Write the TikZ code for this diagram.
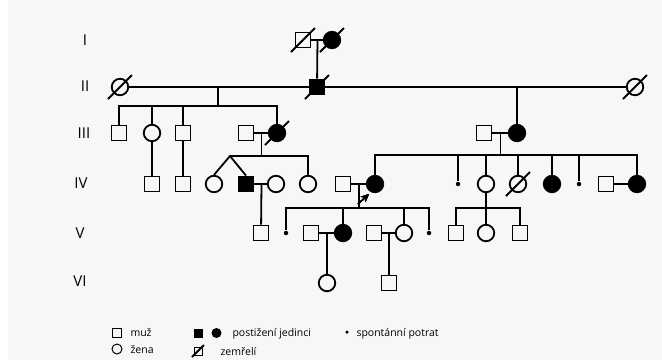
\documentclass[tikz,border=0pt]{standalone}
\usepackage{fontspec}
\setmainfont{Open Sans}
\usetikzlibrary{arrows.meta,calc}
% diagonal stroke through a deceased person
\newcommand{\deceased}[2][12]{\draw[slash] (#2) ++(-#1,#1) -- ++(2*#1,-2*#1);}
\begin{document}
\begin{tikzpicture}
	[x=1pt,y=-1pt,line width=1.8pt,
	male/.style={draw,rectangle,minimum size=15,inner sep=0},
	female/.style={draw,circle,minimum size=16.5,inner sep=0},
	affected/.style={fill=black},
	abort/.style={circle,fill=black,minimum size=4.5,inner sep=0},
	slash/.style={line width=1.8pt},
	gen/.style={font=\fontsize{15}{17}\selectfont},
	legend/.style={font=\fontsize{10.5}{12}\selectfont,anchor=base west,inner sep=0}]
	\fill[white] (0,0) rectangle (662,360);
	\fill[gray!6] (8,0) rectangle (662,360);
	\clip (0,0) rectangle (662,360);
	% generations
	\foreach \g/\x/\y in {I/85/40,II/85/86,III/84/133,IV/81/183,V/80/233,VI/80/281}
		\node[gen] at (\x,\y) {\g};
	% I
	\node[male] (I1) at (303,40) {};
	\node[female,affected] (I2) at (332,40) {};
	% II
	\node[female] (II1) at (120,87) {};
	\node[male,affected] (II2) at (317,87) {};
	\node[female] (II3) at (635,87) {};
	% III
	\node[male] (III1) at (119,133) {};
	\node[female] (III2) at (152,133) {};
	\node[male] (III3) at (183,133) {};
	\node[male] (III4) at (246,133) {};
	\node[female,affected] (III5) at (277,133) {};
	\node[male] (III6) at (484,133) {};
	\node[female,affected] (III7) at (517,133) {};
	% IV
	\node[male] (IV1) at (152,184) {};
	\node[male] (IV2) at (183,184) {};
	\node[female] (IV3) at (214,184) {};
	\node[male,affected] (IV4) at (246,184) {};
	\node[female] (IV5) at (276,184) {};
	\node[female] (IV6) at (308,184) {};
	\node[male] (IV7) at (343,184) {};
	\node[female,affected] (IV8) at (375,184) {};
	\node[abort] (IV9) at (458,184) {};
	\node[female] (IV10) at (486,184) {};
	\node[female] (IV11) at (518,184) {};
	\node[female,affected] (IV12) at (552,184) {};
	\node[abort] (IV13) at (579,184) {};
	\node[male] (IV14) at (606,184) {};
	\node[female,affected] (IV15) at (637,184) {};
	% V
	\node[male] (V1) at (261,233) {};
	\node[abort] (V2) at (286,233) {};
	\node[male] (V3) at (311,233) {};
	\node[female,affected] (V4) at (343,233) {};
	\node[male] (V5) at (374,233) {};
	\node[female] (V6) at (404,233) {};
	\node[abort] (V7) at (429,233) {};
	\node[male] (V8) at (456,233) {};
	\node[female] (V9) at (486,233) {};
	\node[male] (V10) at (520,233) {};
	% VI
	\node[female] (VI1) at (327,283) {};
	\node[male] (VI2) at (389,283) {};
	% sibship points
	\coordinate (sII1) at (218,106);
	\coordinate (sIII4) at (261.5,156);
	\coordinate (twin) at (230,156);
	\coordinate (sIII6) at (500.5,155);
	\coordinate (sIV7) at (359,208);
	\coordinate (sIV10) at (486,208);
	% marriages
	\draw (I1) -- (I2);
	\draw (II1) -- (II2) -- (II3);
	\draw (III4) -- (III5);
	\draw (III6) -- (III7);
	\draw (IV4) -- (IV5);
	\draw (IV7) -- (IV8);
	\draw (IV14) -- (IV15);
	\draw (V3) -- (V4);
	\draw (V5) -- (V6);
	% descent
	\draw ($(I1)!.5!(I2)$) -- (II2);
	\draw (sII1 |- II2) -- (sII1);
	\draw (III1.north) |- (sII1) -| (III5.north);
	\draw (III2) -- (III2 |- sII1);
	\draw (III3) -- (III3 |- sII1);
	\draw (III7) -- (III7 |- II2);
	\draw (III2) -- (IV1);
	\draw (III3) -- (IV2);
	\draw (sIII4 |- III4) -- (sIII4);
	\draw (IV3.north) -- (twin) -- (IV4.north);
	\draw (twin) -| (IV6.north);
	\draw (sIII4 |- IV4) -- (V1);
	\draw (sIII6 |- III6) -- (sIII6);
	\draw (IV8.north) |- (sIII6) -| (IV15.north);
	\foreach \c in {IV9,IV10,IV11,IV12,IV13}
		\draw (\c) -- (\c |- sIII6);
	\draw (sIV7 |- IV7) -- (sIV7);
	\draw (V2) |- (sIV7) -| (V7);
	\draw (V4) -- (V4 |- sIV7);
	\draw (V6) -- (V6 |- sIV7);
	\draw (IV10) -- (sIV10);
	\draw (V8.north) |- (sIV10) -| (V10.north);
	\draw (V9) -- (sIV10);
	\draw ($(V3)!.5!(V4)$) -- (VI1);
	\draw ($(V5)!.5!(V6)$) -- (VI2);
	% deceased
	\foreach \c in {I1,I2,II1,II2,II3,III5,IV11}
		\deceased{\c}
	% proband
	\draw[-{Stealth[length=8pt,width=7pt]},line width=1.2pt] (358,204) -- (369,194);
	% legend
	\begin{scope}[line width=1pt]
		\node[draw,minimum size=9,inner sep=0] (lm) at (117,333) {};
		\node[legend] at (130,336) {muž};
		\node[draw,circle,minimum size=10,inner sep=0] (lf) at (117,349) {};
		\node[legend] at (130,353) {žena};
		\node[fill=black,minimum size=9,inner sep=0] (la) at (198,333) {};
		\node[circle,fill=black,minimum size=10,inner sep=0] (lb) at (216.5,333) {};
		\node[legend] at (232,336) {postižení jedinci};
		\node[draw,minimum size=8,inner sep=0] (ld) at (198,351) {};
		\deceased[6]{ld}
		\node[legend] at (220,355) {zemřelí};
		\node[abort,minimum size=3.5] (lp) at (347,332) {};
		\node[legend] at (356,336) {spontánní potrat};
	\end{scope}
\end{tikzpicture}
\end{document}
